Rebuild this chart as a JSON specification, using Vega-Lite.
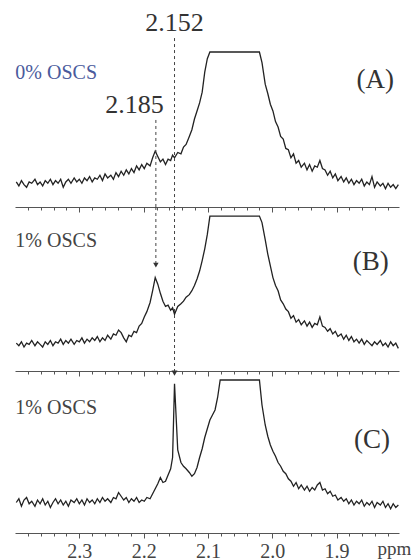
{
  "$schema": "https://vega.github.io/schema/vega-lite/v6.json",
  "padding": {"left": 13, "top": 0, "right": 0, "bottom": 0},
  "background": "white",
  "spacing": 0,
  "bounds": "flush",
  "config": {
    "view": {"stroke": null},
    "axis": {"grid": false, "domainColor": "#555", "tickColor": "#555", "domainWidth": 1, "tickWidth": 1},
    "text": {"font": "Liberation Serif"}
  },
  "data": {
    "values": "ppm,a,b,c\n2.398,0.03,0.03,0.02\n2.394,0.00,0.01,0.05\n2.390,0.04,0.04,-0.01\n2.386,0.01,0.00,0.04\n2.382,-0.01,0.03,0.06\n2.378,0.03,0.02,0.01\n2.374,0.02,0.05,0.03\n2.369,0.05,0.01,-0.01\n2.365,0.01,0.04,0.04\n2.361,0.03,0.02,0.01\n2.357,0.00,0.00,0.05\n2.353,0.04,0.04,0.00\n2.349,0.02,0.02,0.03\n2.345,0.05,0.05,-0.02\n2.341,0.01,0.01,0.02\n2.337,0.04,0.04,0.05\n2.333,0.02,0.03,0.01\n2.329,0.05,0.06,0.04\n2.325,-0.01,0.02,0.00\n2.321,0.03,0.05,0.03\n2.317,0.05,0.03,-0.01\n2.313,0.02,0.06,0.04\n2.308,0.06,0.02,0.02\n2.304,0.03,0.05,0.05\n2.300,0.05,0.04,0.01\n2.296,0.02,0.07,0.04\n2.292,0.06,0.03,0.00\n2.288,0.04,0.06,0.05\n2.284,0.07,0.04,0.02\n2.280,0.03,0.07,0.04\n2.276,0.06,0.05,0.01\n2.272,0.05,0.08,0.05\n2.268,0.08,0.04,0.02\n2.264,0.04,0.07,0.06\n2.260,0.09,0.05,0.03\n2.256,0.06,0.09,0.05\n2.251,0.08,0.06,0.02\n2.247,0.05,0.10,0.06\n2.243,0.10,0.09,0.05\n2.239,0.07,0.13,0.10\n2.235,0.11,0.11,0.07\n2.231,0.08,0.07,0.04\n2.227,0.12,0.04,0.06\n2.223,0.09,0.09,0.02\n2.219,0.13,0.08,0.05\n2.215,0.10,0.12,0.03\n2.211,0.15,0.11,0.06\n2.207,0.12,0.16,0.02\n2.203,0.16,0.18,0.04\n2.199,0.13,0.23,0.03\n2.195,0.17,0.27,0.06\n2.190,0.15,0.34,0.05\n2.186,0.21,0.43,0.09\n2.182,0.26,0.53,0.13\n2.178,0.22,0.48,0.17\n2.174,0.18,0.41,0.22\n2.170,0.20,0.35,0.18\n2.166,0.16,0.31,0.19\n2.162,0.20,0.32,0.24\n2.158,0.19,0.28,0.29\n2.155,0.23,0.30,0.38\n2.152,0.21,0.25,0.97\n2.147,0.25,0.31,0.44\n2.142,0.24,0.33,0.34\n2.138,0.29,0.35,0.31\n2.134,0.31,0.38,0.29\n2.129,0.37,0.40,0.26\n2.125,0.42,0.43,0.23\n2.121,0.50,0.47,0.25\n2.117,0.56,0.52,0.30\n2.113,0.62,0.58,0.38\n2.109,0.70,0.66,0.45\n2.105,0.85,0.75,0.54\n2.101,0.95,0.86,0.61\n2.097,1,1,0.68\n2.093,1,1,0.72\n2.089,1,1,0.76\n2.085,1,1,0.86\n2.081,1,1,1\n2.077,1,1,1\n2.072,1,1,1\n2.068,1,1,1\n2.064,1,1,1\n2.060,1,1,1\n2.056,1,1,1\n2.052,1,1,1\n2.048,1,1,1\n2.044,1,1,1\n2.040,1,1,1\n2.036,1,1,1\n2.032,1,1,1\n2.028,1,1,1\n2.024,1,1,1\n2.020,1,1,1\n2.016,0.92,0.95,0.80\n2.011,0.76,0.82,0.64\n2.007,0.69,0.71,0.55\n2.003,0.61,0.62,0.48\n1.999,0.56,0.53,0.43\n1.995,0.48,0.47,0.39\n1.991,0.44,0.43,0.34\n1.987,0.37,0.36,0.31\n1.983,0.35,0.33,0.27\n1.979,0.28,0.29,0.25\n1.975,0.27,0.27,0.21\n1.971,0.21,0.22,0.19\n1.967,0.24,0.24,0.15\n1.963,0.17,0.19,0.18\n1.959,0.19,0.21,0.13\n1.955,0.14,0.17,0.16\n1.950,0.17,0.20,0.12\n1.946,0.12,0.16,0.15\n1.942,0.16,0.19,0.11\n1.938,0.11,0.15,0.14\n1.934,0.15,0.18,0.12\n1.930,0.14,0.17,0.16\n1.926,0.19,0.23,0.18\n1.922,0.13,0.16,0.12\n1.918,0.12,0.15,0.13\n1.914,0.08,0.12,0.09\n1.910,0.11,0.14,0.11\n1.906,0.06,0.10,0.07\n1.902,0.09,0.12,0.08\n1.898,0.04,0.08,0.04\n1.893,0.07,0.10,0.06\n1.889,0.03,0.06,0.03\n1.885,0.06,0.09,0.05\n1.881,0.02,0.05,0.01\n1.877,0.05,0.08,0.04\n1.873,0.01,0.04,0.00\n1.869,0.04,0.06,0.03\n1.865,0.02,0.03,0.01\n1.861,0.05,0.06,0.04\n1.857,0.00,0.02,-0.01\n1.853,0.03,0.05,0.02\n1.849,0.01,0.03,0.00\n1.845,0.07,0.01,0.03\n1.841,-0.01,0.04,-0.02\n1.837,0.03,0.02,0.02\n1.832,0.00,0.05,0.00\n1.828,0.02,0.01,0.03\n1.824,-0.02,0.03,-0.02\n1.820,0.02,0.00,0.01\n1.816,-0.01,0.04,-0.03\n1.812,0.01,0.01,0.01\n1.808,-0.02,0.03,-0.02\n1.804,0.01,-0.01,0.00",
    "format": {"type": "csv", "parse": {"ppm": "number", "a": "number", "b": "number", "c": "number"}}
  },
  "vconcat": [
    {
      "width": 384,
      "height": 207,
      "encoding": {
        "x": {"field": "ppm", "type": "quantitative", "scale": {"domain": [1.803, 2.4], "reverse": true, "nice": false, "zero": false},
          "axis": {"values": [2.38,2.36,2.34,2.32,2.3,2.28,2.26,2.24,2.22,2.2,2.18,2.16,2.14,2.12,2.1,2.08,2.06,2.04,2.02,2.0,1.98,1.96,1.94,1.92,1.9,1.88,1.86,1.84,1.82], "labels": false, "title": null,
            "tickSize": {"condition": {"test": "abs(datum.value*10-round(datum.value*10))<0.001", "value": 5}, "value": 3}}}
      },
      "layer": [
        {
          "mark": {"type": "line", "color": "#222", "strokeWidth": 1.3},
          "encoding": {
            "y": {"field": "a", "type": "quantitative", "scale": {"domain": [-0.157, 1.388], "nice": false, "zero": false}, "axis": null}
          }
        },
        {
          "data": {"values": [{"ppm": 2.152, "top": 1.104, "bottom": -0.157}, {"ppm": 2.181, "top": 0.4925, "bottom": -0.157}]},
          "mark": {"type": "rule", "strokeDash": [3, 3], "color": "#444", "strokeWidth": 1},
          "encoding": {
            "y": {"field": "top", "type": "quantitative", "scale": {"domain": [-0.157, 1.388], "nice": false, "zero": false}, "axis": null},
            "y2": {"field": "bottom"}
          }
        },
        {
          "data": {"values": [{"ppm": 2.152, "level": 1.22, "label": "2.152"}, {"ppm": 2.2141, "level": 0.604, "label": "2.185"}]},
          "mark": {"type": "text", "fontSize": 26, "color": "#333", "baseline": "middle", "align": "center", "font": "Liberation Serif"},
          "encoding": {
            "y": {"field": "level", "type": "quantitative", "scale": {"domain": [-0.157, 1.388], "nice": false, "zero": false}, "axis": null},
            "text": {"field": "label"}
          }
        },
        {
          "data": {"values": [{"ppm": 2.3995, "level": 0.84, "label": "0% OSCS"}]},
          "mark": {"type": "text", "fontSize": 20, "color": "#4a5a9c", "baseline": "middle", "align": "left", "font": "Liberation Serif"},
          "encoding": {
            "y": {"field": "level", "type": "quantitative", "scale": {"domain": [-0.157, 1.388], "nice": false, "zero": false}, "axis": null},
            "text": {"field": "label"}
          }
        },
        {
          "data": {"values": [{"ppm": 1.84, "level": 0.791, "label": "(A)"}]},
          "mark": {"type": "text", "fontSize": 27, "color": "#333", "baseline": "middle", "align": "center", "font": "Liberation Serif"},
          "encoding": {
            "y": {"field": "level", "type": "quantitative", "scale": {"domain": [-0.157, 1.388], "nice": false, "zero": false}, "axis": null},
            "text": {"field": "label"}
          }
        }
      ]
    },
    {
      "width": 384,
      "height": 164,
      "encoding": {
        "x": {"field": "ppm", "type": "quantitative", "scale": {"domain": [1.803, 2.4], "reverse": true, "nice": false, "zero": false},
          "axis": {"values": [2.38,2.36,2.34,2.32,2.3,2.28,2.26,2.24,2.22,2.2,2.18,2.16,2.14,2.12,2.1,2.08,2.06,2.04,2.02,2.0,1.98,1.96,1.94,1.92,1.9,1.88,1.86,1.84,1.82], "labels": false, "title": null,
            "tickSize": {"condition": {"test": "abs(datum.value*10-round(datum.value*10))<0.001", "value": 5}, "value": 3}}}
      },
      "layer": [
        {
          "mark": {"type": "line", "color": "#222", "strokeWidth": 1.3},
          "encoding": {
            "y": {"field": "b", "type": "quantitative", "scale": {"domain": [-0.183, 1.069], "nice": false, "zero": false}, "axis": null}
          }
        },
        {
          "data": {"values": [{"ppm": 2.152, "top": 1.069, "bottom": -0.183}, {"ppm": 2.181, "top": 1.069, "bottom": 0.62}]},
          "mark": {"type": "rule", "strokeDash": [3, 3], "color": "#444", "strokeWidth": 1},
          "encoding": {
            "y": {"field": "top", "type": "quantitative", "scale": {"domain": [-0.183, 1.069], "nice": false, "zero": false}, "axis": null},
            "y2": {"field": "bottom"}
          }
        },
        {
          "data": {"values": [{"ppm": 2.181, "level": 0.625}]},
          "mark": {"type": "point", "shape": "triangle-down", "filled": true, "size": 30, "color": "#333", "opacity": 1},
          "encoding": {
            "y": {"field": "level", "type": "quantitative", "scale": {"domain": [-0.183, 1.069], "nice": false, "zero": false}, "axis": null}
          }
        },
        {
          "data": {"values": [{"ppm": 2.3995, "level": 0.809, "label": "1% OSCS"}]},
          "mark": {"type": "text", "fontSize": 20, "color": "#444", "baseline": "middle", "align": "left", "font": "Liberation Serif"},
          "encoding": {
            "y": {"field": "level", "type": "quantitative", "scale": {"domain": [-0.183, 1.069], "nice": false, "zero": false}, "axis": null},
            "text": {"field": "label"}
          }
        },
        {
          "data": {"values": [{"ppm": 1.847, "level": 0.649, "label": "(B)"}]},
          "mark": {"type": "text", "fontSize": 27, "color": "#333", "baseline": "middle", "align": "center", "font": "Liberation Serif"},
          "encoding": {
            "y": {"field": "level", "type": "quantitative", "scale": {"domain": [-0.183, 1.069], "nice": false, "zero": false}, "axis": null},
            "text": {"field": "label"}
          }
        }
      ]
    },
    {
      "width": 384,
      "height": 162,
      "encoding": {
        "x": {"field": "ppm", "type": "quantitative", "scale": {"domain": [1.803, 2.4], "reverse": true, "nice": false, "zero": false},
          "axis": {"values": [2.38,2.36,2.34,2.32,2.3,2.28,2.26,2.24,2.22,2.2,2.18,2.16,2.14,2.12,2.1,2.08,2.06,2.04,2.02,2.0,1.98,1.96,1.94,1.92,1.9,1.88,1.86,1.84,1.82],
            "labelExpr": "abs(datum.value*10-round(datum.value*10))<0.001 ? format(datum.value, '.1f') : ''",
            "labelFont": "Liberation Serif", "labelFontSize": 20, "labelColor": "#444", "labelPadding": 3, "labelOverlap": false, "labelFlush": false,
            "tickSize": {"condition": {"test": "abs(datum.value*10-round(datum.value*10))<0.001", "value": 5}, "value": 3},
            "title": "ppm", "titleFont": "Liberation Serif", "titleFontSize": 19, "titleFontWeight": "normal", "titleColor": "#444",
            "titleX": 379, "titleY": 21, "titleAlign": "center", "titleBaseline": "alphabetic"}}
      },
      "layer": [
        {
          "mark": {"type": "line", "color": "#222", "strokeWidth": 1.3},
          "encoding": {
            "y": {"field": "c", "type": "quantitative", "scale": {"domain": [-0.224, 1.072], "nice": false, "zero": false}, "axis": null}
          }
        },
        {
          "data": {"values": [{"ppm": 2.152, "top": 1.072, "bottom": 1.045}]},
          "mark": {"type": "rule", "strokeDash": [3, 3], "color": "#444", "strokeWidth": 1},
          "encoding": {
            "y": {"field": "top", "type": "quantitative", "scale": {"domain": [-0.224, 1.072], "nice": false, "zero": false}, "axis": null},
            "y2": {"field": "bottom"}
          }
        },
        {
          "data": {"values": [{"ppm": 2.152, "level": 1.055}]},
          "mark": {"type": "point", "shape": "triangle-down", "filled": true, "size": 35, "color": "#333", "opacity": 1},
          "encoding": {
            "y": {"field": "level", "type": "quantitative", "scale": {"domain": [-0.224, 1.072], "nice": false, "zero": false}, "axis": null}
          }
        },
        {
          "data": {"values": [{"ppm": 2.3995, "level": 0.776, "label": "1% OSCS"}]},
          "mark": {"type": "text", "fontSize": 20, "color": "#444", "baseline": "middle", "align": "left", "font": "Liberation Serif"},
          "encoding": {
            "y": {"field": "level", "type": "quantitative", "scale": {"domain": [-0.224, 1.072], "nice": false, "zero": false}, "axis": null},
            "text": {"field": "label"}
          }
        },
        {
          "data": {"values": [{"ppm": 1.845, "level": 0.52, "label": "(C)"}]},
          "mark": {"type": "text", "fontSize": 27, "color": "#333", "baseline": "middle", "align": "center", "font": "Liberation Serif"},
          "encoding": {
            "y": {"field": "level", "type": "quantitative", "scale": {"domain": [-0.224, 1.072], "nice": false, "zero": false}, "axis": null},
            "text": {"field": "label"}
          }
        }
      ]
    }
  ]
}
